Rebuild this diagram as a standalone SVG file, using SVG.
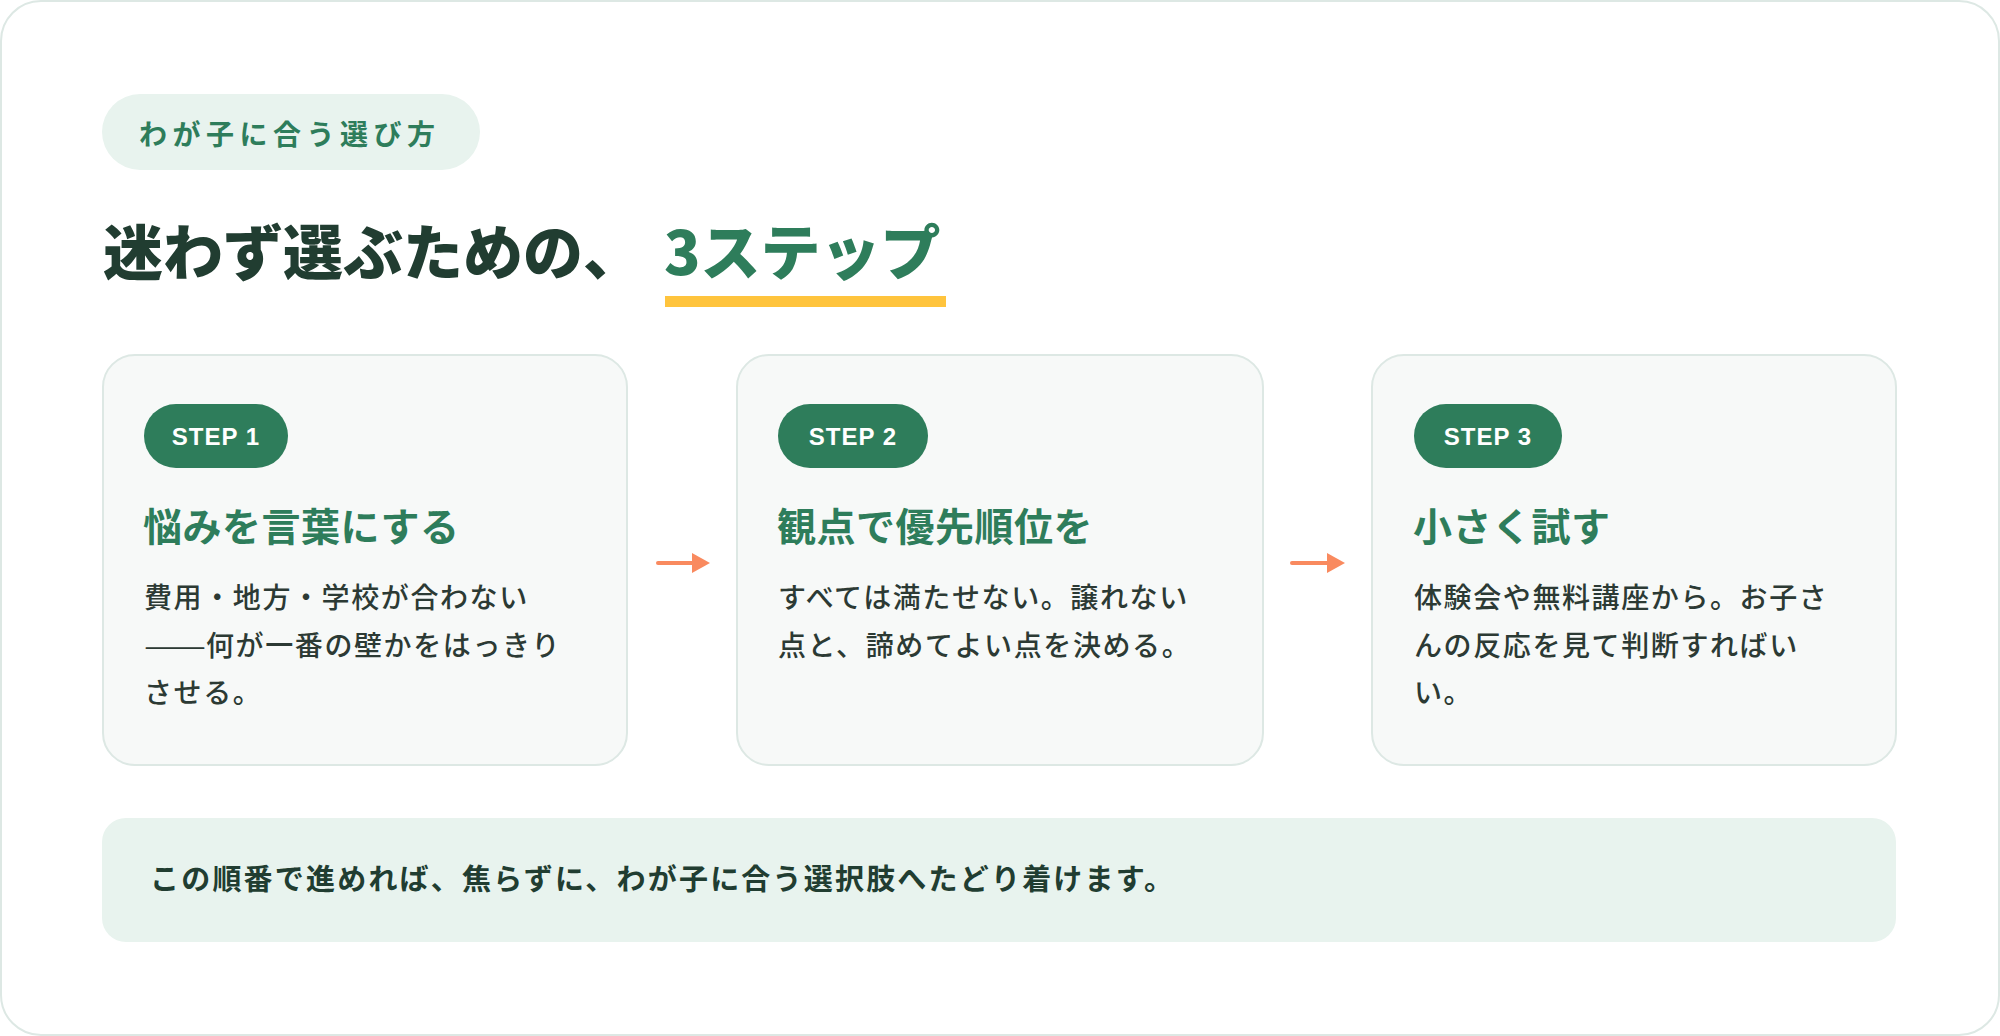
<svg xmlns="http://www.w3.org/2000/svg" width="2000" height="1036" viewBox="0 0 2000 1036">
  <defs>
    <style>
      .jp { font-family: "Noto Sans CJK JP", "Noto Sans", sans-serif; }
      .tag-text { font-size: 28px; font-weight: 700; fill: #2e7d5b; letter-spacing: 5.5px; }
      .title { font-size: 60px; font-weight: 900; fill: #213d31; }
      .title-accent { fill: #2e7d5b; }
      .card { fill: #f7f9f8; stroke: #dde8e4; stroke-width: 2; }
      .pill { fill: #2e7d5b; }
      .pill-text { font-family: "Liberation Sans", Arial, sans-serif; font-size: 24px; font-weight: 700; fill: #ffffff; letter-spacing: 1px; }
      .heading { font-size: 39px; font-weight: 700; fill: #2e7d5b; letter-spacing: 0.5px; }
      .body { font-size: 28px; font-weight: 500; fill: #2c3a34; letter-spacing: 1.6px; }
      .dash { font-weight: 400; letter-spacing: 0px; }
      .summary { font-size: 29px; font-weight: 700; fill: #213d31; letter-spacing: 2.2px; }
      .arrow { stroke: #f98a5f; stroke-width: 4; stroke-linecap: round; fill: none; }
    </style>
    <marker id="arrowhead" viewBox="0 0 18 20" refX="0" refY="10" markerWidth="18" markerHeight="20" markerUnits="userSpaceOnUse" orient="auto">
      <path d="M0,0 L18,10 L0,20 Z" fill="#f98a5f"/>
    </marker>
  </defs>

  <rect x="1" y="1" width="1998" height="1034" rx="40" fill="#ffffff" stroke="#dde8e4" stroke-width="2"/>

  <g id="tag">
    <rect x="102" y="94" width="378" height="76" rx="38" fill="#e8f3ee"/>
    <text class="jp tag-text" x="139" y="144.5">わが子に合う選び方</text>
  </g>

  <g id="title">
    <text class="jp title" x="103" y="275">迷わず選ぶための、</text>
    <text class="jp title title-accent" x="664" y="275">3ステップ</text>
    <rect x="665" y="296" width="281" height="11" fill="#ffc43d"/>
  </g>

  <g id="step1">
    <rect class="card" x="103" y="355" width="524" height="410" rx="32"/>
    <rect class="pill" x="144" y="404" width="144" height="64" rx="32"/>
    <text class="pill-text" x="216" y="445" text-anchor="middle">STEP 1</text>
    <text class="jp heading" x="143" y="541">悩みを言葉にする</text>
    <text class="jp body" x="144">
      <tspan x="144" y="608">費用・地方・学校が合わない</tspan>
      <tspan x="144" y="655.5" class="dash" textLength="62" lengthAdjust="spacingAndGlyphs">——</tspan><tspan x="206" y="655.5">何が一番の壁かをはっきり</tspan>
      <tspan x="144" y="703">させる。</tspan>
    </text>
  </g>

  <g id="step2">
    <rect class="card" x="737" y="355" width="526" height="410" rx="32"/>
    <rect class="pill" x="778" y="404" width="150" height="64" rx="32"/>
    <text class="pill-text" x="853" y="445" text-anchor="middle">STEP 2</text>
    <text class="jp heading" x="777" y="541">観点で優先順位を</text>
    <text class="jp body" x="778">
      <tspan x="778" y="608">すべては満たせない。譲れない</tspan>
      <tspan x="778" y="655.5">点と、諦めてよい点を決める。</tspan>
    </text>
  </g>

  <g id="step3">
    <rect class="card" x="1372" y="355" width="524" height="410" rx="32"/>
    <rect class="pill" x="1414" y="404" width="148" height="64" rx="32"/>
    <text class="pill-text" x="1488" y="445" text-anchor="middle">STEP 3</text>
    <text class="jp heading" x="1413" y="541">小さく試す</text>
    <text class="jp body" x="1414">
      <tspan x="1414" y="608">体験会や無料講座から。お子さ</tspan>
      <tspan x="1414" y="655.5">んの反応を見て判断すればい</tspan>
      <tspan x="1414" y="703">い。</tspan>
    </text>
  </g>

  <g id="connectors">
    <line class="arrow" x1="658" y1="563" x2="692" y2="563" marker-end="url(#arrowhead)"/>
    <line class="arrow" x1="1292" y1="563" x2="1327" y2="563" marker-end="url(#arrowhead)"/>
  </g>

  <g id="summary">
    <rect x="102" y="818" width="1794" height="124" rx="24" fill="#e8f3ee"/>
    <text class="jp summary" x="150" y="890">この順番で進めれば、焦らずに、わが子に合う選択肢へたどり着けます。</text>
  </g>
</svg>
